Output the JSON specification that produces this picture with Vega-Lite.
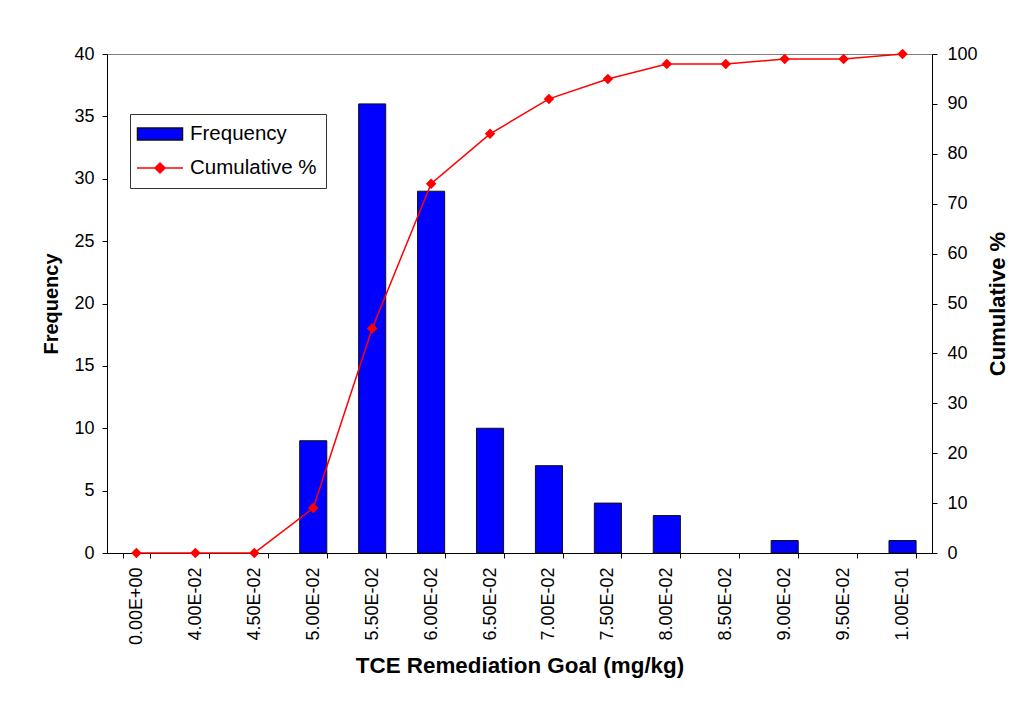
{
  "$schema": "https://vega.github.io/schema/vega-lite/v6.json",
  "width": 825,
  "height": 499,
  "autosize": {"type": "none"},
  "padding": {"left": 107, "top": 54, "right": 95, "bottom": 151},
  "background": "white",
  "config": {
    "font": "Liberation Sans",
    "view": {"stroke": "#808080", "strokeWidth": 1},
    "axis": {
      "labelFont": "Liberation Sans",
      "titleFont": "Liberation Sans",
      "labelColor": "black",
      "titleColor": "black",
      "domainColor": "black",
      "tickColor": "black",
      "grid": false,
      "labelFontSize": 18,
      "titleFontSize": 21,
      "titleFontWeight": "bold",
      "tickSize": 5
    },
    "legend": {
      "orient": "none",
      "legendX": 23,
      "legendY": 60,
      "direction": "vertical",
      "strokeColor": "#333333",
      "fillColor": "white",
      "padding": 9,
      "labelFont": "Liberation Sans",
      "labelFontSize": 20.5,
      "labelColor": "black",
      "symbolSize": 400,
      "symbolOffset": 10,
      "symbolOpacity": 1,
      "symbolStrokeWidth": 1.5,
      "labelOffset": 19,
      "rowPadding": 12
    }
  },
  "data": {
    "values": [
      {"bin": "0.00E+00", "freq": 0, "cum": 0},
      {"bin": "4.00E-02", "freq": 0, "cum": 0},
      {"bin": "4.50E-02", "freq": 0, "cum": 0},
      {"bin": "5.00E-02", "freq": 9, "cum": 9},
      {"bin": "5.50E-02", "freq": 36, "cum": 45},
      {"bin": "6.00E-02", "freq": 29, "cum": 74},
      {"bin": "6.50E-02", "freq": 10, "cum": 84},
      {"bin": "7.00E-02", "freq": 7, "cum": 91},
      {"bin": "7.50E-02", "freq": 4, "cum": 95},
      {"bin": "8.00E-02", "freq": 3, "cum": 98},
      {"bin": "8.50E-02", "freq": 0, "cum": 98},
      {"bin": "9.00E-02", "freq": 1, "cum": 99},
      {"bin": "9.50E-02", "freq": 0, "cum": 99},
      {"bin": "1.00E-01", "freq": 1, "cum": 100}
    ]
  },
  "encoding": {
    "x": {
      "field": "bin",
      "type": "nominal",
      "sort": null,
      "scale": {"paddingInner": 0.54, "paddingOuter": 0.27},
      "axis": {
        "title": "TCE Remediation Goal (mg/kg)",
        "titleFontSize": 22.4,
        "labelAngle": 270,
        "labelPadding": 9,
        "titlePadding": 10,
        "tickBand": "extent"
      }
    }
  },
  "layer": [
    {
      "encoding": {
        "y": {
          "field": "freq",
          "type": "quantitative",
          "scale": {"domain": [0, 40], "nice": false},
          "axis": {
            "title": "Frequency",
            "titleFontSize": 20,
            "values": [0, 5, 10, 15, 20, 25, 30, 35, 40],
            "labelPadding": 8,
            "titlePadding": 12
          }
        }
      },
      "layer": [
        {
          "mark": {"type": "bar", "fill": "#0000FF", "stroke": "#111111", "strokeWidth": 1},
          "encoding": {
            "strokeOpacity": {"condition": {"test": "datum.freq == 0", "value": 0}, "value": 1}
          }
        },
        {
          "mark": {"type": "point", "opacity": 0, "filled": true},
          "encoding": {
            "fill": {
              "datum": "Frequency",
              "type": "nominal",
              "scale": {"domain": ["Frequency", "Cumulative %"], "range": ["#0000FF", "#FF0000"]},
              "legend": {"title": null}
            },
            "stroke": {
              "datum": "Frequency",
              "type": "nominal",
              "scale": {"domain": ["Frequency", "Cumulative %"], "range": ["#111111", "#FF0000"]},
              "legend": {"title": null}
            },
            "shape": {
              "datum": "Frequency",
              "type": "nominal",
              "scale": {"domain": ["Frequency", "Cumulative %"], "range": ["M-2.25,-0.6H2.25V0.6H-2.25Z", "M-2.3,0H2.3M0,-0.5L0.5,0L0,0.5L-0.5,0Z"]},
              "legend": {"title": null}
            }
          }
        },
        {
          "mark": {"type": "point", "opacity": 0, "filled": true},
          "encoding": {
            "fill": {"datum": "Cumulative %", "type": "nominal"},
            "stroke": {"datum": "Cumulative %", "type": "nominal"},
            "shape": {"datum": "Cumulative %", "type": "nominal"}
          }
        }
      ]
    },
    {
      "mark": {
        "type": "line",
        "color": "#FF0000",
        "strokeWidth": 1.5,
        "point": {"shape": "diamond", "size": 110, "filled": true, "opacity": 1, "color": "#FF0000"}
      },
      "encoding": {
        "y": {
          "field": "cum",
          "type": "quantitative",
          "scale": {"domain": [0, 100], "nice": false},
          "axis": {
            "orient": "right",
            "title": "Cumulative %",
            "titleFontSize": 22,
            "values": [0, 10, 20, 30, 40, 50, 60, 70, 80, 90, 100],
            "labelPadding": 10,
            "titleAngle": 270,
            "titleBaseline": "top",
            "titlePadding": 10
          }
        }
      }
    }
  ],
  "resolve": {"scale": {"y": "independent"}}
}
